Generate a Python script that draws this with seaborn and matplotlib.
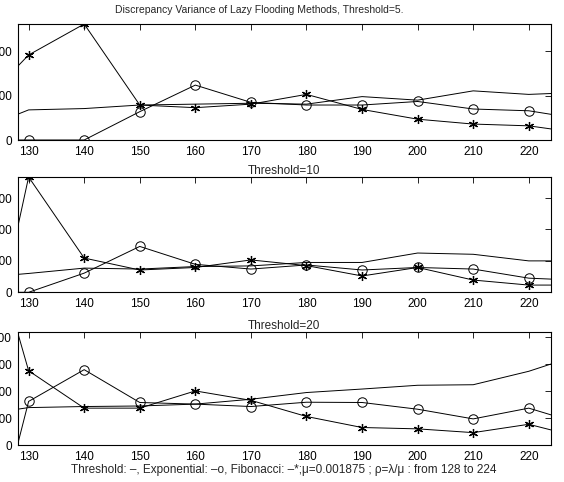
import matplotlib
matplotlib.use("Agg")
import matplotlib.pyplot as plt
import pandas as pd
import seaborn as sns

# x axis: rho range swept in the simulation
rho = [128, 130, 140, 150, 160, 170, 180, 190, 200, 210, 220, 224]
xticks = [130, 140, 150, 160, 170, 180, 190, 200, 210, 220]

# Threshold = 5
t5_threshold = [58, 68, 71, 79, 81, 83, 81, 98, 90, 111, 103, 105]
t5_exponential = [0, 0, 0, 64, 124, 85, 79, 79, 87, 70, 66, 58]
t5_fibonacci = [166, 192, 262, 79, 73, 81, 103, 69, 47, 36, 32, 25]

# Threshold = 10
t10_threshold = [57, 60, 77, 74, 82, 84, 95, 95, 125, 121, 100, 100]
t10_exponential = [0, 0, 61, 146, 89, 74, 87, 71, 79, 74, 45, 42]
t10_fibonacci = [204, 367, 109, 71, 79, 103, 85, 52, 79, 39, 23, 23]

# Threshold = 20
t20_threshold = [133, 139, 143, 145, 152, 170, 195, 208, 222, 224, 274, 301]
t20_exponential = [0, 162, 280, 158, 152, 143, 159, 158, 133, 97, 137, 112]
t20_fibonacci = [420, 276, 137, 137, 201, 166, 106, 65, 60, 46, 77, 56]

panels = [
    ("Discrepancy Variance of Lazy Flooding Methods, Threshold=5.",
     t5_threshold, t5_exponential, t5_fibonacci, [0, 100, 200]),
    ("Threshold=10", t10_threshold, t10_exponential, t10_fibonacci, [0, 100, 200, 300]),
    ("Threshold=20", t20_threshold, t20_exponential, t20_fibonacci, [0, 100, 200, 300, 400]),
]

sns.set_style("white")
plt.rcParams["font.family"] = ["Liberation Sans", "DejaVu Sans"]
plt.rcParams["font.size"] = 8.5

W, H = 564, 482
fig = plt.figure(figsize=(W / 100, H / 100), dpi=100)

# axes boxes in pixels: (top, bottom)
boxes = [(24, 140), (177, 292.3), (332, 445)]
left_px, right_px = 17.5, 551

star = (6, 2, 0)
for (title, thr, expo, fib, yt), (top, bot) in zip(panels, boxes):
    ax = fig.add_axes([left_px / W, 1 - bot / H, (right_px - left_px) / W, (bot - top) / H])
    df = pd.DataFrame({"rho": rho, "threshold": thr, "exponential": expo, "fibonacci": fib})
    common = dict(ax=ax, color="black", linewidth=0.7, errorbar=None)
    sns.lineplot(data=df, x="rho", y="threshold", **common)
    sns.lineplot(data=df, x="rho", y="exponential", marker="o", markersize=6.8,
                 markerfacecolor="none", markeredgecolor="black", markeredgewidth=0.7,
                 markevery=slice(1, 11), **common)
    sns.lineplot(data=df, x="rho", y="fibonacci", marker=star, markersize=6.5,
                 markeredgecolor="black", markeredgewidth=0.9,
                 markevery=slice(1, 11), **common)
    ax.set_xlim(128, 224)
    ax.set_ylim(0, max(thr + expo + fib))
    ax.set_xticks(xticks)
    ax.set_yticks(yt)
    ax.set_xlabel("")
    ax.set_ylabel("")
    ax.tick_params(direction="in", top=True, right=True, length=4, width=0.6,
                   labelsize=8.5, pad=4, colors="black")
    for s in ax.spines.values():
        s.set_linewidth(0.8)
        s.set_color("black")
    if top == 24:
        fig.text(259 / W, 1 - 10 / H, title, ha="center", va="center", fontsize=7.5)
    else:
        ax.set_title(title, fontsize=8.5, pad=2)

fig.text(284 / W, 1 - 470 / H,
         "Threshold: \u2013, Exponential: \u2013o, Fibonacci: \u2013*;\u03bc=0.001875 ; "
         "\u03c1=\u03bb/\u03bc : from 128 to 224",
         ha="center", va="center", fontsize=8.5)

fig.savefig("out.png", dpi=100)
